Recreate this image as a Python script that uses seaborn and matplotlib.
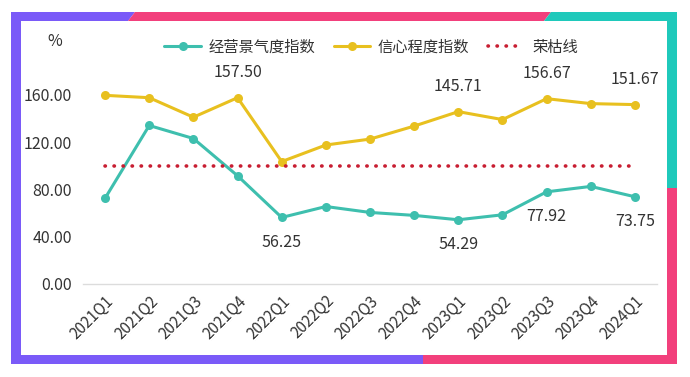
import numpy as np
import pandas as pd
import matplotlib.pyplot as plt
import seaborn as sns
from matplotlib.patches import Polygon
from matplotlib.ticker import FormatStrFormatter

quarters = ['2021Q1', '2021Q2', '2021Q3', '2021Q4', '2022Q1', '2022Q2', '2022Q3',
            '2022Q4', '2023Q1', '2023Q2', '2023Q3', '2023Q4', '2024Q1']
jingqi = [72.5, 134.0, 123.0, 91.5, 56.25, 65.5, 60.5, 58.0, 54.29, 58.5, 77.92, 82.5, 73.75]
xinxin = [159.5, 157.5, 141.0, 157.5, 103.5, 117.5, 122.5, 133.5, 145.71, 139.0, 156.67, 152.5, 151.67]
rongku = [100, 100, 100, 100, 100, 100, 100, 100, 100, 100, 100, 100, 100]

# which points carry a value label
jingqi_lab = ['2022Q1', '2023Q1', '2023Q3', '2024Q1']
xinxin_lab = ['2021Q4', '2023Q1', '2023Q3', '2024Q1']

teal = '#3EBFAE'
yellow = '#E8C01F'
red = '#C81E32'
txt = '#333333'

sns.set_theme(style='white')
plt.rcParams['font.family'] = ['Noto Sans CJK SC', 'DejaVu Sans']

W, H = 690, 377
fig = plt.figure(figsize=(6.9, 3.77), dpi=100)
fig.patch.set_facecolor('white')


def fpoly(pts, color):
    # pixel coords -> figure fraction
    p = [(x / W, 1 - y / H) for x, y in pts]
    fig.add_artist(Polygon(p, closed=True, facecolor=color, edgecolor='none',
                           transform=fig.transFigure, zorder=0))


# coloured frame
purple_c, pink_c, teal_c = '#7A5AF8', '#F2407C', '#1FC9BB'
fpoly([(11, 12), (135, 12), (128, 21), (11, 21)], purple_c)
fpoly([(135, 12), (551, 12), (544, 21), (128, 21)], pink_c)
fpoly([(551, 12), (677, 12), (677, 21), (544, 21)], teal_c)
fpoly([(11, 12), (21, 12), (21, 364), (11, 364)], purple_c)
fpoly([(667, 12), (677, 12), (677, 188), (667, 188)], teal_c)
fpoly([(667, 188), (677, 188), (677, 364), (667, 364)], pink_c)
fpoly([(11, 355), (423, 355), (423, 364), (11, 364)], purple_c)
fpoly([(423, 355), (677, 355), (677, 364), (423, 364)], pink_c)

ax = fig.add_axes([83 / W, 1 - 284 / H, (657 - 83) / W, (284 - 77) / H])
ax.set_facecolor('none')

df = pd.DataFrame({'季度': quarters, '经营景气度指数': jingqi,
                   '信心程度指数': xinxin, '荣枯线': rongku})

sns.lineplot(data=df, x='季度', y='经营景气度指数', ax=ax, sort=False, color=teal,
             lw=2.2, marker='o', markersize=6.5, markeredgewidth=0, label='经营景气度指数')
sns.lineplot(data=df, x='季度', y='信心程度指数', ax=ax, sort=False, color=yellow,
             lw=2.2, marker='o', markersize=6.5, markeredgewidth=0, label='信心程度指数')
sns.lineplot(data=df, x='季度', y='荣枯线', ax=ax, sort=False, color=red,
             lw=2.6, linestyle=(0, (0.1, 2.4)), dash_capstyle='round', label='荣枯线')

for q in jingqi_lab:
    v = jingqi[quarters.index(q)]
    ax.annotate(f'{v:.2f}', (q, v), xytext=(0, -18), textcoords='offset points',
                ha='center', va='center', fontsize=11.5, color=txt)
for q in xinxin_lab:
    v = xinxin[quarters.index(q)]
    ax.annotate(f'{v:.2f}', (q, v), xytext=(0, 18), textcoords='offset points',
                ha='center', va='center', fontsize=11.5, color=txt)

ax.set_xlim(-0.5, len(quarters) - 0.5)
ax.set_ylim(0, 175)
ax.set_yticks([0, 40, 80, 120, 160])
ax.yaxis.set_major_formatter(FormatStrFormatter('%.2f'))
ax.set_xlabel('')
ax.set_ylabel('')
for s in ['top', 'right', 'left']:
    ax.spines[s].set_visible(False)
ax.spines['bottom'].set_color('#dcdcdc')
ax.spines['bottom'].set_linewidth(1)
ax.tick_params(axis='y', length=0, labelsize=11.5, labelcolor=txt, pad=8)
ax.tick_params(axis='x', length=0, labelsize=11, labelcolor=txt, pad=6)
plt.setp(ax.get_xticklabels(), rotation=45, ha='right', rotation_mode='anchor')

handles, labels = ax.get_legend_handles_labels()
ax.get_legend().remove()
fig.legend(handles, labels, loc='center', bbox_to_anchor=(371 / W, 1 - 47 / H), ncol=3,
           frameon=False, fontsize=11, handlelength=2.4, columnspacing=1.2,
           handletextpad=0.5, labelcolor=txt)

fig.text(55 / W, 1 - 42 / H, '%', fontsize=11.5, color=txt, ha='center', va='center')

fig.savefig('out.png', dpi=100)
